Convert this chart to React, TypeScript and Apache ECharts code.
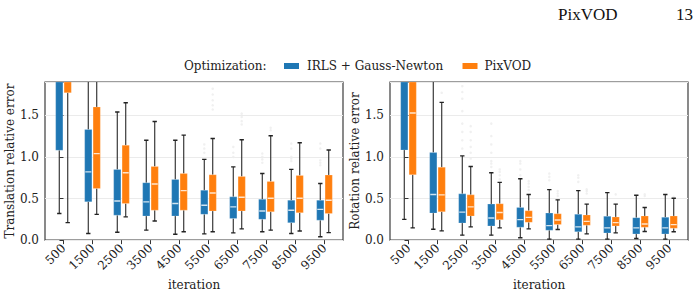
import React, { useEffect, useRef } from "react";
import * as echarts from "echarts";

const iterations = ["500", "1500", "2500", "3500", "4500", "5500", "6500", "7500", "8500", "9500"];
const seriesNames = ["IRLS + Gauss-Newton", "PixVOD"];
const yTicks = [0, 0.5, 1.0, 1.5];

// Translation relative error
const transIrlsLow = [0.32, 0.08, 0.095, 0.12, 0.07, 0.075, 0.087, 0.1, 0.08, 0.04];
const transIrlsQ1 = [1.08, 0.46, 0.3, 0.29, 0.29, 0.31, 0.26, 0.25, 0.21, 0.24];
const transIrlsMed = [2.3, 0.82, 0.47, 0.46, 0.44, 0.42, 0.4, 0.35, 0.36, 0.37];
const transIrlsQ3 = [3.0, 1.33, 0.85, 0.69, 0.73, 0.6, 0.52, 0.49, 0.48, 0.48];
const transIrlsHigh = [4.5, 2.6, 1.54, 1.2, 1.2, 0.97, 0.88, 0.8, 0.85, 0.68];

const transPixLow = [0.21, 0.31, 0.28, 0.23, 0.1, 0.1, 0.135, 0.12, 0.11, 0.09];
const transPixQ1 = [1.77, 0.62, 0.44, 0.36, 0.36, 0.35, 0.35, 0.34, 0.33, 0.32];
const transPixMed = [2.4, 1.04, 0.81, 0.675, 0.595, 0.567, 0.516, 0.504, 0.504, 0.48];
const transPixQ3 = [3.1, 1.6, 1.14, 0.885, 0.8, 0.786, 0.766, 0.706, 0.778, 0.782];
const transPixHigh = [4.6, 2.5, 1.65, 1.425, 1.262, 1.222, 1.206, 1.254, 1.171, 1.083];

// Rotation relative error
const rotIrlsLow = [0.25, 0.131, 0.06, 0.06, 0.028, 0.012, 0.012, 0.012, 0.02, 0.012];
const rotIrlsQ1 = [1.083, 0.325, 0.206, 0.171, 0.155, 0.119, 0.1, 0.087, 0.075, 0.075];
const rotIrlsMed = [2.2, 0.548, 0.337, 0.266, 0.246, 0.175, 0.159, 0.147, 0.147, 0.147];
const rotIrlsQ3 = [2.9, 1.052, 0.556, 0.433, 0.393, 0.325, 0.31, 0.286, 0.27, 0.274];
const rotIrlsHigh = [4.2, 2.1, 1.012, 0.81, 0.738, 0.607, 0.595, 0.571, 0.54, 0.548];

const rotPixLow = [0.147, 0.111, 0.159, 0.147, 0.135, 0.127, 0.075, 0.087, 0.103, 0.1];
const rotPixQ1 = [0.786, 0.341, 0.29, 0.246, 0.214, 0.187, 0.179, 0.171, 0.155, 0.143];
const rotPixMed = [1.528, 0.544, 0.4, 0.333, 0.274, 0.242, 0.226, 0.21, 0.194, 0.187];
const rotPixQ3 = [2.6, 0.877, 0.544, 0.437, 0.353, 0.317, 0.302, 0.278, 0.29, 0.29];
const rotPixHigh = [3.8, 1.655, 0.885, 0.694, 0.548, 0.484, 0.433, 0.433, 0.393, 0.504];

// Outliers: [iteration index, value]
const transIrlsOut = [
  [5, 1.05], [5, 1.1], [5, 1.15],
  [6, 1.0], [6, 1.05], [6, 1.12],
  [7, 0.93], [7, 0.97], [7, 1.0], [7, 1.04],
  [8, 0.95], [8, 0.98], [8, 1.0], [8, 1.1], [8, 1.16],
  [9, 0.9], [9, 0.93], [9, 0.96], [9, 1.1], [9, 1.16],
];
const transPixOut = [
  [5, 1.57], [5, 1.62], [5, 1.68], [5, 1.75], [5, 1.82],
  [6, 1.39], [6, 1.43], [6, 1.48], [6, 1.52],
  [7, 1.32], [7, 1.35],
];
const rotIrlsOut = [
  [2, 1.1], [2, 1.2], [2, 1.3], [2, 1.4], [2, 1.55], [2, 1.7], [2, 1.78], [2, 1.85],
  [3, 0.88], [3, 0.92], [3, 0.95], [3, 1.05], [3, 1.15], [3, 1.25], [3, 1.4],
  [4, 0.78], [4, 0.85], [4, 0.92], [4, 0.95],
  [5, 0.72], [5, 0.76], [5, 0.8],
  [6, 0.7], [6, 0.75], [6, 0.78],
];
const rotPixOut = [
  [1, 1.77],
  [2, 0.98], [2, 1.05], [2, 1.12], [2, 1.2], [2, 1.3], [2, 1.37],
  [3, 0.73], [3, 0.78], [3, 0.82], [3, 0.85],
  [4, 0.6], [4, 0.64], [4, 0.68], [4, 0.71],
  [5, 0.53], [5, 0.56], [5, 0.59],
  [6, 0.56], [6, 0.59], [6, 0.61],
  [7, 0.55],
  [8, 0.53], [8, 0.55],
  [9, 0.52],
];

const BLUE = "#1f77b4";
const ORANGE = "#ff7f0e";
const FONT = "DejaVu Serif";
const Y_MAX = 1.9;

function zip(lo: number[], q1: number[], med: number[], q3: number[], hi: number[]) {
  return lo.map((_, i) => [i, lo[i], q1[i], med[i], q3[i], hi[i]]);
}

function makeBoxRender(offsetFrac: number, color: string) {
  return (params: any, api: any) => {
    const i = api.value(0);
    const lo = api.value(1), q1 = api.value(2), med = api.value(3), q3 = api.value(4), hi = api.value(5);
    const band = api.size([1, 0])[0];
    const cx = api.coord([i, 0])[0] + offsetFrac * band;
    const bw = band * 0.25;
    const cs = params.coordSys;
    const top = cs.y;
    const yOf = (v: number) => api.coord([i, Math.min(v, Y_MAX)])[1];
    const children: any[] = [];
    const wStyle = { stroke: "#3a3a3a", lineWidth: 1.2 };
    children.push({ type: "line", shape: { x1: cx, y1: yOf(lo), x2: cx, y2: yOf(q1) }, style: wStyle });
    if (q3 < Y_MAX) {
      children.push({ type: "line", shape: { x1: cx, y1: yOf(q3), x2: cx, y2: hi > Y_MAX ? top : yOf(hi) }, style: wStyle });
    }
    const capW = bw * 0.3;
    children.push({ type: "line", shape: { x1: cx - capW, y1: yOf(lo), x2: cx + capW, y2: yOf(lo) }, style: { stroke: "#222", lineWidth: 1.4 } });
    if (hi <= Y_MAX) {
      children.push({ type: "line", shape: { x1: cx - capW, y1: yOf(hi), x2: cx + capW, y2: yOf(hi) }, style: { stroke: "#222", lineWidth: 1.4 } });
    }
    const yq3 = yOf(q3), yq1 = yOf(q1);
    children.push({
      type: "rect",
      shape: { x: cx - bw / 2, y: yq3, width: bw, height: yq1 - yq3 },
      style: { fill: color, stroke: "rgba(255,255,255,0.25)", lineWidth: 0.8 },
    });
    if (med <= Y_MAX) {
      const ym = yOf(med);
      children.push({
        type: "line",
        shape: { x1: cx - bw / 2 + 0.6, y1: ym, x2: cx + bw / 2 - 0.6, y2: ym },
        style: { stroke: "rgba(255,255,255,0.8)", lineWidth: 1.4 },
      });
    }
    return { type: "group", children };
  };
}

const OFF = 0.145;

function panelAxes(gridIndex: number, name: string) {
  const xAxis = {
    type: "value",
    gridIndex,
    min: -0.638,
    max: 9.638,
    name: "iteration",
    nameLocation: "middle",
    nameGap: 36,
    nameTextStyle: { fontFamily: FONT, fontSize: 12, color: "#222" },
    axisLine: { show: false },
    splitLine: { show: false },
    axisTick: { show: true, customValues: iterations.map((_, i) => i), length: 4, lineStyle: { color: "#333", width: 1 } },
    axisLabel: {
      customValues: iterations.map((_, i) => i),
      formatter: (v: number) => iterations[Math.round(v)],
      rotate: 45,
      margin: 6,
      fontFamily: FONT,
      fontSize: 12,
      color: "#222",
    },
  };
  const yAxis = {
    type: "value",
    gridIndex,
    min: 0,
    max: Y_MAX,
    interval: 0.5,
    name,
    nameLocation: "middle",
    nameGap: 27,
    nameTextStyle: { fontFamily: FONT, fontSize: 12, color: "#222" },
    axisLine: { show: false },
    axisTick: { show: true, length: 4, lineStyle: { color: "#333" } },
    axisLabel: {
      formatter: (v: number) => (yTicks.includes(v) ? v.toFixed(1) : ""),
      fontFamily: FONT,
      fontSize: 12,
      color: "#222",
      margin: 6,
    },
    splitLine: { show: true, lineStyle: { color: "#ebebeb", width: 1 } },
  };
  return { xAxis, yAxis };
}

function panelSeries(idx: number, irls: any[], pix: any[], irlsOut: number[][], pixOut: number[][]) {
  const outStyle = { color: "#ececec" };
  return [
    {
      type: "scatter",
      xAxisIndex: idx,
      yAxisIndex: idx,
      data: irlsOut,
      symbolSize: 2.5,
      symbolOffset: [-4.2, 0],
      itemStyle: outStyle,
      silent: true,
      z: 1,
    },
    {
      type: "scatter",
      xAxisIndex: idx,
      yAxisIndex: idx,
      data: pixOut,
      symbolSize: 2.5,
      symbolOffset: [4.2, 0],
      itemStyle: outStyle,
      silent: true,
      z: 1,
    },
    {
      type: "custom",
      name: seriesNames[0],
      xAxisIndex: idx,
      yAxisIndex: idx,
      data: irls,
      renderItem: makeBoxRender(-OFF, BLUE),
      clip: true,
      z: 3,
    },
    {
      type: "custom",
      name: seriesNames[1],
      xAxisIndex: idx,
      yAxisIndex: idx,
      data: pix,
      renderItem: makeBoxRender(OFF, ORANGE),
      clip: true,
      z: 3,
    },
  ];
}

export default function App() {
  const ref = useRef<HTMLDivElement>(null);
  useEffect(() => {
    document.body.style.margin = "0";
    if (!ref.current) return;
    const chart = echarts.init(ref.current, null, { renderer: "svg" });
    const a0 = panelAxes(0, "Translation relative error");
    const a1 = panelAxes(1, "Rotation relative error");
    const gridStyle = { show: true, borderColor: "#3d3d3d", borderWidth: 1.2, backgroundColor: "transparent" };
    chart.setOption({
      animation: false,
      grid: [
        { left: 45, top: 82, width: 298, height: 160, ...gridStyle },
        { left: 390, top: 82, width: 298, height: 160, ...gridStyle },
      ],
      xAxis: [a0.xAxis, a1.xAxis],
      yAxis: [a0.yAxis, a1.yAxis],
      series: [
        ...panelSeries(
          0,
          zip(transIrlsLow, transIrlsQ1, transIrlsMed, transIrlsQ3, transIrlsHigh),
          zip(transPixLow, transPixQ1, transPixMed, transPixQ3, transPixHigh),
          transIrlsOut,
          transPixOut
        ),
        ...panelSeries(
          1,
          zip(rotIrlsLow, rotIrlsQ1, rotIrlsMed, rotIrlsQ3, rotIrlsHigh),
          zip(rotPixLow, rotPixQ1, rotPixMed, rotPixQ3, rotPixHigh),
          rotIrlsOut,
          rotPixOut
        ),
      ],
      graphic: [
        { type: "text", x: 558, y: 14, style: { text: "PixVOD", font: '17px "Liberation Serif"', fill: "#111", verticalAlign: "middle" } },
        { type: "text", x: 676, y: 14, style: { text: "13", font: '17px "Liberation Serif"', fill: "#111", verticalAlign: "middle" } },
        { type: "text", x: 184, y: 66, style: { text: "Optimization:", font: `12px "${FONT}"`, fill: "#222", verticalAlign: "middle" } },
        { type: "rect", shape: { x: 284, y: 63, width: 15, height: 6 }, style: { fill: BLUE } },
        { type: "text", x: 307, y: 66, style: { text: seriesNames[0], font: `12px "${FONT}"`, fill: "#222", verticalAlign: "middle" } },
        { type: "rect", shape: { x: 462.5, y: 63, width: 15, height: 6 }, style: { fill: ORANGE } },
        { type: "text", x: 484.5, y: 66, style: { text: seriesNames[1], font: `12px "${FONT}"`, fill: "#222", verticalAlign: "middle" } },
      ],
    });
    return () => chart.dispose();
  }, []);
  return <div ref={ref} style={{ width: 699, height: 296 }} />;
}
